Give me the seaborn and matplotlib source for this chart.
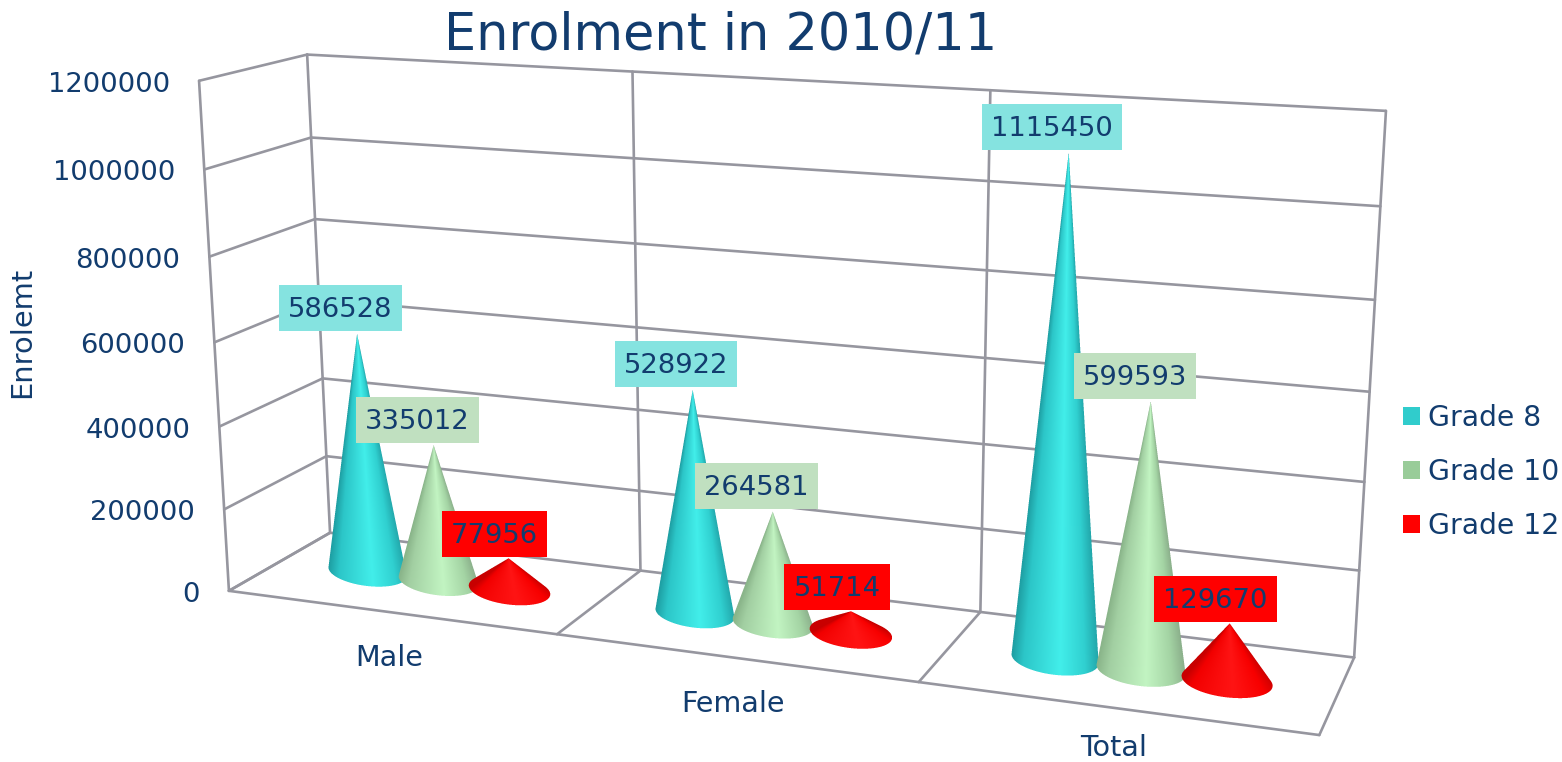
import numpy as np
import pandas as pd
import matplotlib
matplotlib.use("Agg")
import matplotlib.pyplot as plt
from matplotlib.patches import Patch, Rectangle
from matplotlib.path import Path
from matplotlib.colors import to_rgb
import seaborn as sns

categories = ["Male", "Female", "Total"]
grades = ["Grade 8", "Grade 10", "Grade 12"]
grade8 = [586528, 528922, 1115450]
grade10 = [335012, 264581, 599593]
grade12 = [77956, 51714, 129670]
ticks = [0, 200000, 400000, 600000, 800000, 1000000, 1200000]
series = [grade8, grade10, grade12]

legend_colors = ["#30CCCC", "#99CC99", "#FF0000"]
label_colors = ["#85E3E0", "#C0E0C0", "#FF0000"]
cone_stops = [
    ["#1E9FA3", "#2CC6C8", "#42EEEA", "#30D0D0", "#22A6AA"],
    ["#8AB58A", "#A2CFA2", "#C2F4C2", "#A4D4A4", "#8AAE8A"],
    ["#C80000", "#F20000", "#FF1414", "#F80000", "#C80000"],
]
TEXT = "#123C6E"
GRID = "#96969F"

# perspective camera of the 3-D box: (category, depth, value share) -> pixel
ref_box = [(0, 0, 0), (3, 0, 0), (0, 1, 0), (3, 1, 0), (0, 0, 1), (0, 1, 1), (3, 1, 1),
           (1, 0, 0), (2, 0, 0), (1, 1, 0), (2, 1, 0), (1, 1, 1), (2, 1, 1)]
ref_px = [(229, 591), (1319, 735), (330, 533), (1355, 657), (199, 80), (307, 53), (1386, 110),
          (558, 634), (918, 683), (640, 570), (980, 612), (633, 75), (990, 90)]
rows = []
for (a, b, c), (x, y) in zip(ref_box, ref_px):
    rows.append([a, b, c, 1, 0, 0, 0, 0, -x * a, -x * b, -x * c, -x])
    rows.append([0, 0, 0, 0, a, b, c, 1, -y * a, -y * b, -y * c, -y])
CAM = np.linalg.svd(np.array(rows, float))[2][-1].reshape(3, 4)


def proj(u, v, val):
    p = CAM @ np.array([u, v, val / ticks[-1], 1.0])
    return p[0] / p[2], p[1] / p[2]


sns.set_theme(style="white")
plt.rcParams["font.family"] = ["DejaVu Sans"]
fig = plt.figure(figsize=(15.62, 7.62), dpi=100, facecolor="white")
ax = fig.add_axes([0, 0, 1, 1])

# frame
segments = []
for t in ticks:
    segments.append((proj(0, 0, t), proj(0, 1, t)))
    segments.append((proj(0, 1, t), proj(3, 1, t)))
segments.append((proj(0, 0, 0), proj(0, 0, ticks[-1])))
for u in range(4):
    segments.append((proj(u, 1, 0), proj(u, 1, ticks[-1])))
    segments.append((proj(u, 0, 0), proj(u, 1, 0)))
segments.append((proj(0, 0, 0), proj(3, 0, 0)))
frame = pd.DataFrame(
    [{"x": p[0], "y": p[1], "seg": i} for i, s in enumerate(segments) for p in s]
)
sns.lineplot(data=frame, x="x", y="y", units="seg", estimator=None, sort=False,
             color=GRID, linewidth=1.9, legend=False, ax=ax)

# cones
offsets = [0.28, 0.505, 0.725]
RAD_U = [0.125, 0.115, 0.115]
DEPTH = 0.5
FLAT = 0.36
theta = np.linspace(0, 2 * np.pi, 181)[:-1]
STOP_POS = [0, 0.14, 0.56, 0.84, 1.0]


def hull(points):
    pts = sorted(map(tuple, points))

    def half(seq):
        out = []
        for p in seq:
            while len(out) > 1 and ((out[-1][0] - out[-2][0]) * (p[1] - out[-2][1])
                                    - (out[-1][1] - out[-2][1]) * (p[0] - out[-2][0])) <= 0:
                out.pop()
            out.append(p)
        return out[:-1]

    return half(pts) + half(pts[::-1])


def draw_cone(u, rad, val, stops):
    cx, cy = proj(u, DEPTH, 0)
    lx, ly = proj(u - rad, DEPTH, 0)
    rx, ry = proj(u + rad, DEPTH, 0)
    dx, dy = (rx - lx) / 2, (ry - ly) / 2
    ex = cx + dx * np.cos(theta) - dy * FLAT * np.sin(theta)
    ey = cy + dy * np.cos(theta) + dx * FLAT * np.sin(theta)
    apex = proj(u, DEPTH, val)
    outline = hull(np.column_stack([np.append(ex, apex[0]), np.append(ey, apex[1])]))
    path = Path(np.array(outline + [outline[0]]))

    x0, x1 = int(min(ex.min(), apex[0])) - 1, int(max(ex.max(), apex[0])) + 2
    y0, y1 = int(min(ey.min(), apex[1])) - 1, int(max(ey.max(), apex[1])) + 2
    w, h = x1 - x0, y1 - y0
    ss = 4
    gx, gy = np.meshgrid(x0 + (np.arange(w * ss) + 0.5) / ss, y0 + (np.arange(h * ss) + 0.5) / ss)
    inside = path.contains_points(np.column_stack([gx.ravel(), gy.ravel()])).reshape(gy.shape)
    alpha = inside.reshape(h, ss, w, ss).mean(axis=(1, 3))

    px, py = np.meshgrid(x0 + np.arange(w) + 0.5, y0 + np.arange(h) + 0.5)
    hit = np.maximum(py - apex[1], 0.5)
    base_x = apex[0] + (px - apex[0]) * (cy - apex[1]) / hit
    s = np.clip((base_x - ex.min()) / (ex.max() - ex.min()), 0, 1)
    cols = np.array([to_rgb(c) for c in stops])
    rgba = np.dstack([np.interp(s, STOP_POS, cols[:, k]) for k in range(3)] + [alpha])
    ax.imshow(rgba, extent=(x0, x1, y1, y0), origin="upper", interpolation="nearest",
              aspect="auto", zorder=3)
    return apex


labels = []
label_dx = [-16.5, -16, -14]
label_dy = [-25.5, -25.5, -24]
for c in range(len(categories)):
    for g in range(len(grades)):
        apex = draw_cone(c + offsets[g], RAD_U[c], series[g][c], cone_stops[g])
        labels.append((apex[0] + label_dx[g], apex[1] + label_dy[g], str(series[g][c]), label_colors[g]))

ax.set_xlim(0, 1562)
ax.set_ylim(762, 0)
ax.axis("off")

# data labels: fixed-height box with the number slightly below its middle
renderer = fig.canvas.get_renderer()
for bx, by, txt, col in labels:
    t = ax.text(bx, by + 2, txt, ha="center", va="center", fontsize=19.7, color=TEXT, zorder=6)
    width = t.get_window_extent(renderer).width + 18
    ax.add_patch(Rectangle((bx - width / 2, by - 23), width, 46, fc=col, ec="none", zorder=5))

# value labels
for t in ticks:
    ax.annotate(str(t), xy=proj(0, 0, t), xytext=(-29, -4), textcoords="offset pixels",
                ha="right", va="center", fontsize=19.7, color=TEXT)

# category labels
cat_drop = [46, 46.5, 40]
for c, name in enumerate(categories):
    ax.annotate(name, xy=proj(c + 0.5, 0, 0), xytext=(0, -cat_drop[c]), textcoords="offset pixels",
                ha="center", va="center", fontsize=20.6, color=TEXT, annotation_clip=False)

fig.text(720.5 / 1562, 1 - 35 / 762, "Enrolment in 2010/11", ha="center", va="center",
         fontsize=36.6, color=TEXT)
fig.text(22 / 1562, 1 - 332 / 762, "Enrolemt", rotation=90, ha="center", va="center",
         fontsize=20.8, color=TEXT)

palette = sns.color_palette(legend_colors)
handles = [Patch(facecolor=col, edgecolor="none", label=g) for col, g in zip(palette, grades)]
fig.legend(handles=handles, loc="center left", bbox_to_anchor=(1403 / 1562, 1 - 472 / 762),
           frameon=False, fontsize=20.3, labelcolor=TEXT, handlelength=0.6, handleheight=0.6,
           handletextpad=0.27, labelspacing=0.93, borderpad=0, borderaxespad=0)

fig.savefig("out.png", dpi=100, facecolor="white")
